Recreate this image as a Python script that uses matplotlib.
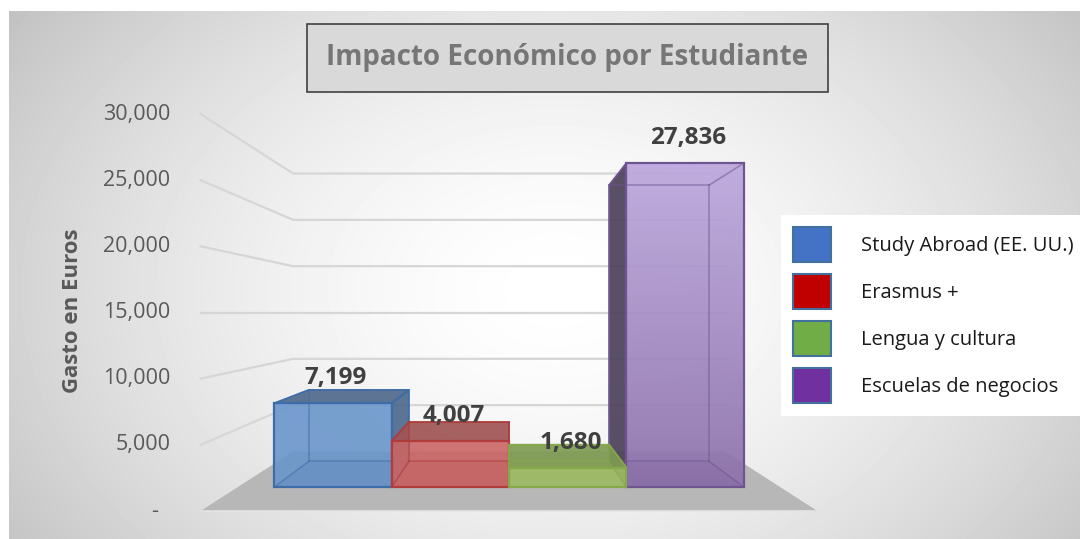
import numpy as np
import matplotlib
matplotlib.use("Agg")
import matplotlib.pyplot as plt
from matplotlib.patches import Polygon, Patch, Rectangle

# ---------------- data ----------------
categories = ["Study Abroad (EE. UU.)", "Erasmus +", "Lengua y cultura", "Escuelas de negocios"]
values = [7199, 4007, 1680, 27836]
value_labels = ["7,199", "4,007", "1,680", "27,836"]
y_ticks = [0, 5000, 10000, 15000, 20000, 25000, 30000]
y_tick_labels = ["-", "5,000", "10,000", "15,000", "20,000", "25,000", "30,000"]
legend_colors = ["#4472C4", "#C00000", "#70AD47", "#7030A0"]
front_colors = ["#6A96CB", "#CB6565", "#A0BE66", "#A58BC6"]
top_colors = ["#50698C", "#A05454", "#7F9B52", "#55486A"]
side_colors = ["#4E6A8E", "#9E5050", "#7E9A51", "#4C4159"]
edge_colors = ["#3E6CA6", "#B03C3C", "#85A94A", "#6E5590"]
title_text = "Impacto Económico por Estudiante"
y_title = "Gasto en Euros"

plt.rcParams["font.family"] = ["Open Sans", "DejaVu Sans"]

# ---------------- geometry (pseudo 3-D perspective) ----------------
W, H = 1080, 539
PX_PER_CAT = 133.5          # front-plane pixels per category
X_CENTER_PX = 509           # pixel of x = 1.5
ZERO_PX = 511               # pixel row (from top) of value 0 at the front plane
PX_PER_VAL = (511 - 114) / 30000.0
VX, VV = 1.5, 15000.0       # vanishing point (world units)
T_FRONT, T_BACK, T_WALL = 0.12, 0.25, 0.30
FLOOR_X0, FLOOR_X1 = -0.81, 3.81
HALF_W = 0.5


def proj(x, v, t):
    return (VX + (x - VX) * (1 - t), VV + (v - VV) * (1 - t))


fig = plt.figure(figsize=(W / 100, H / 100), dpi=100)

# background radial gradient
bg = fig.add_axes([9 / W, 0, 1 - 9 / W, (H - 11) / H])
bg.set_axis_off()
rows, cols = H - 11, W - 9
yy, xx = np.mgrid[0:rows, 0:cols]
px = xx + 9
py = yy + 11
d = np.sqrt(((px - 555) / 650.0) ** 2 + ((py - 290) / 470.0) ** 2)
grad = 1 - 0.23 * np.clip(d, 0, 1.3) ** 1.6
bg.imshow(grad, cmap="gray", vmin=0, vmax=1, aspect="auto", interpolation="bilinear")
bg.set_xlim(-0.5, cols - 0.5)
bg.set_ylim(rows - 0.5, -0.5)

ax = fig.add_axes([0, 0, 1, 1])
ax.set_axis_off()
ax.patch.set_alpha(0)
xl0 = VX - X_CENTER_PX / PX_PER_CAT
xl1 = VX + (W - X_CENTER_PX) / PX_PER_CAT
yl0 = -(H - ZERO_PX) / PX_PER_VAL
yl1 = ZERO_PX / PX_PER_VAL
ax.set_xlim(xl0, xl1)
ax.set_ylim(yl0, yl1)

# floor
floor = [proj(FLOOR_X0, 0, 0), proj(FLOOR_X1, 0, 0), proj(FLOOR_X1, 0, T_WALL), proj(FLOOR_X0, 0, T_WALL)]
ax.add_patch(Polygon(floor, closed=True, facecolor="#B7B7B7", edgecolor="none", zorder=1))
fe = [proj(FLOOR_X0, 0, 0), proj(FLOOR_X1, 0, 0)]
ax.plot([fe[0][0], fe[1][0]], [fe[0][1], fe[1][1]], color="#E4E4E4", lw=1.2, zorder=1.1)

# gridlines (side wall + back wall)
for v in y_ticks[1:]:
    p0 = proj(FLOOR_X0, v, 0)
    p1 = proj(FLOOR_X0, v, T_WALL)
    p2 = proj(FLOOR_X1, v, T_WALL)
    ax.plot([p0[0], p1[0], p2[0]], [p0[1], p1[1], p2[1]], color="#D6D6D6", lw=1.6,
            solid_joinstyle="miter", zorder=2)

# tick labels
for v, lab in zip(y_ticks, y_tick_labels):
    off = -42 if lab == "-" else -30
    ax.annotate(lab, xy=proj(FLOOR_X0, v, 0), xytext=(off, 0), textcoords="offset pixels",
                ha="right", va="center", fontsize=15.5, color="#595959", zorder=5)


def face(pts, **kw):
    ax.add_patch(Polygon(pts, closed=True, **kw))


order = [0, 3, 1, 2]
z = 3.0
for i in order:
    v = values[i]
    x0, x1 = i - HALF_W, i + HALF_W
    c = {}
    for xn, xv in (("l", x0), ("r", x1)):
        for yn, yv in (("b", 0), ("t", v)):
            for tn, tv in (("f", T_FRONT), ("k", T_BACK)):
                c[xn + yn + tn] = proj(xv, yv, tv)
    ec = edge_colors[i]
    # visible side faces
    if x1 < VX:
        face([c["rbf"], c["rtf"], c["rtk"], c["rbk"]], facecolor=side_colors[i], alpha=0.92,
             edgecolor=ec, lw=1.3, zorder=z)
    if x0 > VX:
        face([c["lbf"], c["ltf"], c["ltk"], c["lbk"]], facecolor=side_colors[i], alpha=0.92,
             edgecolor=ec, lw=1.3, zorder=z)
    if v < VV:
        face([c["ltf"], c["rtf"], c["rtk"], c["ltk"]], facecolor=top_colors[i], alpha=0.92,
             edgecolor=ec, lw=1.3, zorder=z + 0.1)
    # front face
    front = [c["lbf"], c["rbf"], c["rtf"], c["ltf"]]
    if i == 3:
        ext = [c["lbf"][0], c["rbf"][0], c["lbf"][1], c["ltf"][1]]
        g = np.linspace(0, 1, 256).reshape(-1, 1)
        top_c = np.array([0xBC, 0xA7, 0xDD]) / 255
        bot_c = np.array([0x8C, 0x70, 0xAA]) / 255
        img = (bot_c * (1 - g) + top_c * g)[:, None, :].repeat(2, axis=1)
        im = ax.imshow(img, extent=ext, origin="lower", aspect="auto", alpha=0.92, zorder=z + 0.2)
        clip = Polygon(front, closed=True, facecolor="none", edgecolor="none")
        ax.add_patch(clip)
        im.set_clip_path(clip)
        ax.set_xlim(xl0, xl1)
        ax.set_ylim(yl0, yl1)
    else:
        face(front, facecolor=front_colors[i], alpha=0.9, edgecolor="none", zorder=z + 0.2)
    # inner bottom shading (seen through the transparent front)
    face([c["lbf"], c["rbf"], c["rbk"], c["lbk"]], facecolor=ec, alpha=0.12, edgecolor="none",
         zorder=z + 0.3)
    # hidden edges seen through transparency
    hidden = [("lbk", "rbk"), ("rbk", "rtk"), ("rtk", "ltk"), ("ltk", "lbk"),
              ("lbf", "lbk"), ("rbf", "rbk"), ("ltf", "ltk"), ("rtf", "rtk")]
    for a, b in hidden:
        ax.plot([c[a][0], c[b][0]], [c[a][1], c[b][1]], color=ec, lw=1.1, alpha=0.55, zorder=z + 0.4)
    # front outline
    face(front, facecolor="none", edgecolor=ec, lw=1.6, zorder=z + 0.5)
    z += 1

# data labels
for i, (v, lab) in enumerate(zip(values, value_labels)):
    ax.annotate(lab, xy=proj(i, v, T_FRONT), xytext=(3, 25), textcoords="offset pixels",
                ha="center", va="center", fontsize=17.5, fontweight="bold", color="#404040", zorder=20)

# axis title
fig.text(72 / W, 1 - 311 / H, y_title, rotation=90, ha="center", va="center",
         fontsize=16, fontweight="bold", color="#595959")

# title box
fig.patches.append(Rectangle((307 / W, 1 - 92 / H), (828 - 307) / W, (92 - 24) / H,
                             transform=fig.transFigure, facecolor="#D9D9D9",
                             edgecolor="#404040", lw=1.2, zorder=10))
fig.text(567.5 / W, 1 - 58 / H, title_text, ha="center", va="center", fontsize=20,
         fontweight="bold", color="#767676", zorder=11)

# legend
handles = [Patch(facecolor=col, edgecolor="#41719C", lw=1.5) for col in legend_colors]
leg = fig.legend(handles, categories, loc="upper left", bbox_to_anchor=(781 / W, 1 - 215 / H),
                 bbox_transform=fig.transFigure, frameon=True, facecolor="white", edgecolor="none",
                 framealpha=1, fancybox=False, fontsize=14.5, handlelength=1.9, handleheight=2.3,
                 labelspacing=0.6, handletextpad=1.45, borderpad=0.6, borderaxespad=0)
for t in leg.get_texts():
    t.set_color("#1A1A1A")

fig.savefig("out.png", dpi=100)
